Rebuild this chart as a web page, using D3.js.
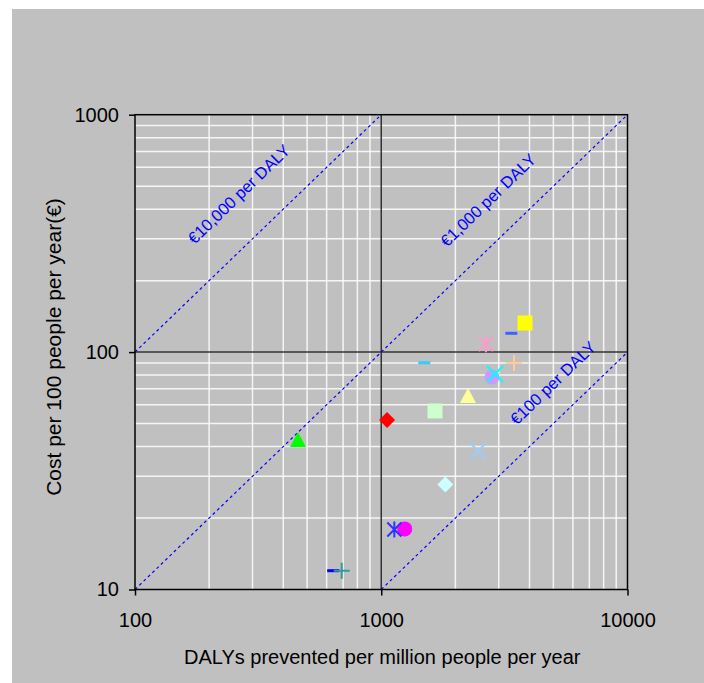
<!DOCTYPE html>
<html>
<head>
<meta charset="utf-8">
<script src="https://cdnjs.cloudflare.com/ajax/libs/d3/7.8.5/d3.min.js"></script>
<style>
  body { margin: 0; background: #fff; }
  svg text { font-family: "Liberation Sans", Arial, sans-serif; }
</style>
</head>
<body>
<div id="chart"></div>
<script>
"use strict";
var w = 704;
var h = 683;

// values
var dalys = [459, 1056, 1653, 2250, 2818, 2897, 2663, 3459, 3375, 3836, 1496, 2472, 1820, 1245, 1130, 638, 691];
var costs = [42.6, 51.8, 56.5, 65.3, 78.5, 80.9, 108, 90, 120, 132.6, 90.2, 38.3, 27.7, 18.0, 17.9, 12.0, 12.0];
var shapes = ["triangle", "diamond", "square", "triangle", "circle", "x", "star", "plus", "dash", "square", "dash", "x", "diamond", "circle", "star", "dash", "plus"];
var colors = ["#00ff00", "#ff0000", "#ccffcc", "#ffff99", "#cc99ff", "#00ffff", "#ff99cc", "#ffcc99", "#3366ff", "#ffff00", "#33ccff", "#99ccff", "#ccffff", "#ff00ff", "#3333ff", "#0000ff", "#339999"];

var costPerDaly = [10000, 1000, 100];
var lineLabels = ["€10,000 per DALY", "€1,000 per DALY", "€100 per DALY"];
var xTicks = [100, 1000, 10000];
var yTicks = [10, 100, 1000];

var pLeft = 135, pRight = 627.5, pTop = 114.7, pBottom = 589.5;

function init() {
    draw();
}
window.onload = init;

function minors(lo, hi) {
    var out = [];
    for (var d = lo; d < hi; d *= 10) {
        for (var k = 2; k <= 9; k++) out.push(d * k);
    }
    return out;
}

function draw() {
    var x = d3.scaleLog().domain([100, 10000]).range([pLeft, pRight]);
    var y = d3.scaleLog().domain([10, 1000]).range([pBottom, pTop]);

    var svg = d3.select("#chart").append("svg")
        .attr("width", w)
        .attr("height", h);

    svg.append("rect")
        .attr("x", 12).attr("y", 9)
        .attr("width", w - 12).attr("height", h - 9)
        .attr("fill", "#c0c0c0");

    var grid = svg.append("g");
    // minor grid, white
    grid.selectAll(".vx").data(minors(100, 10000)).enter().append("line")
        .attr("x1", function(d){ return x(d); }).attr("x2", function(d){ return x(d); })
        .attr("y1", pTop).attr("y2", pBottom)
        .attr("stroke", "#ffffff").attr("stroke-width", 1.5).attr("opacity", 0.85);
    grid.selectAll(".hy").data(minors(10, 1000)).enter().append("line")
        .attr("y1", function(d){ return y(d); }).attr("y2", function(d){ return y(d); })
        .attr("x1", pLeft).attr("x2", pRight)
        .attr("stroke", "#ffffff").attr("stroke-width", 1.5).attr("opacity", 0.85);
    // major grid, dark
    grid.append("line")
        .attr("x1", x(1000)).attr("x2", x(1000)).attr("y1", pTop).attr("y2", pBottom)
        .attr("stroke", "#333").attr("stroke-width", 1.5);
    grid.append("line")
        .attr("y1", y(100)).attr("y2", y(100)).attr("x1", pLeft).attr("x2", pRight)
        .attr("stroke", "#333").attr("stroke-width", 1.5);

    // cost-per-DALY lines: cost per 100 people = DALYs * cpd / 10000
    var lineG = svg.append("g");
    costPerDaly.forEach(function(c) {
        var k = c / 10000;
        var x0 = Math.max(100, 10 / k), x1 = Math.min(10000, 1000 / k);
        lineG.append("line")
            .attr("x1", x(x0)).attr("y1", y(x0 * k))
            .attr("x2", x(x1)).attr("y2", y(x1 * k))
            .attr("stroke", "#0000ff").attr("stroke-width", 1.2)
            .attr("stroke-dasharray", "3,3");
    });

    var angle = -Math.atan((y(10) - y(100)) / (x(1000) - x(100))) * 180 / Math.PI;
    // label centres, in data units
    var labelAt = [[264, 463], [2716, 437], [4977, 74.2]];
    lineLabels.forEach(function(t, i) {
        var px = x(labelAt[i][0]), py = y(labelAt[i][1]);
        lineG.append("text")
            .attr("transform", "translate(" + px + "," + py + ") rotate(" + angle + ")")
            .attr("text-anchor", "middle")
            .attr("dy", "0.35em")
            .attr("font-size", 16.5)
            .attr("fill", "#0000ff")
            .text(t);
    });

    // plot frame
    svg.append("rect")
        .attr("x", pLeft).attr("y", pTop)
        .attr("width", pRight - pLeft).attr("height", pBottom - pTop)
        .attr("fill", "none").attr("stroke", "#000").attr("stroke-width", 1.5);

    // axes
    var xAxis = d3.axisBottom(x).tickValues(xTicks).tickFormat(d3.format("d")).tickSize(6).tickPadding(17);
    var yAxis = d3.axisLeft(y).tickValues(yTicks).tickFormat(d3.format("d")).tickSize(6).tickPadding(10);
    var gx = svg.append("g").attr("transform", "translate(0," + pBottom + ")").call(xAxis);
    var gy = svg.append("g").attr("transform", "translate(" + pLeft + ",0)").call(yAxis);
    [gx, gy].forEach(function(g) {
        g.select(".domain").remove();
        g.selectAll("line").attr("stroke", "#000").attr("stroke-width", 1.5);
        g.selectAll("text").attr("font-size", 20).attr("fill", "#000")
            .style("font-family", "'Liberation Sans', Arial, sans-serif");
    });

    svg.append("text")
        .attr("x", (pLeft + pRight) / 2 + 1).attr("y", 664)
        .attr("text-anchor", "middle").attr("font-size", 20)
        .text("DALYs prevented per million people per year");
    svg.append("text")
        .attr("transform", "translate(61,347) rotate(-90)")
        .attr("text-anchor", "middle").attr("font-size", 21)
        .text("Cost per 100 people per year(€)");

    // markers
    var pts = svg.append("g");
    dalys.forEach(function(dv, i) {
        var px = x(dv), py = y(costs[i]), col = colors[i];
        var g = pts.append("g").attr("transform", "translate(" + px + "," + py + ")");
        switch (shapes[i]) {
            case "square":
                g.append("rect").attr("x", -7.5).attr("y", -7.5).attr("width", 15).attr("height", 15).attr("fill", col);
                break;
            case "triangle":
                g.append("path").attr("d", "M0,-8L8,7L-8,7Z").attr("fill", col);
                break;
            case "diamond":
                g.append("path").attr("d", "M0,-8L8,0L0,8L-8,0Z").attr("fill", col);
                break;
            case "circle":
                g.append("circle").attr("r", 7.5).attr("fill", col);
                break;
            case "x":
                g.append("path").attr("d", "M-8,-8L8,8M-8,8L8,-8").attr("stroke", col).attr("stroke-width", 2);
                break;
            case "star":
                g.append("path").attr("d", "M-7,-7L7,7M-7,7L7,-7M0,-8V8").attr("stroke", col).attr("stroke-width", 2);
                break;
            case "plus":
                g.append("path").attr("d", "M-8,0H8M0,-8V8").attr("stroke", col).attr("stroke-width", 2);
                break;
            case "dash":
                g.append("rect").attr("x", -6).attr("y", -1.5).attr("width", 12).attr("height", 3).attr("fill", col);
                break;
        }
    });
}
</script>
</body>
</html>
